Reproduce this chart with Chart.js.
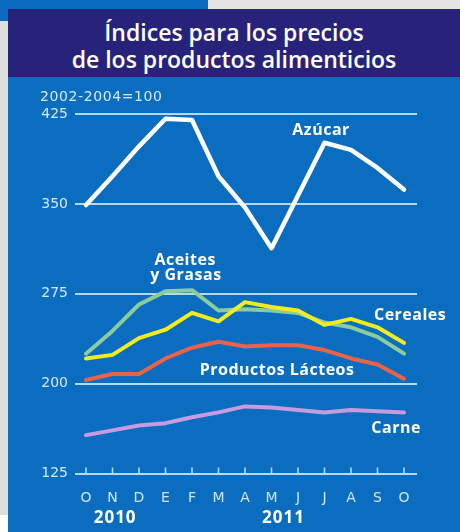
<!DOCTYPE html>
<html>
<head>
<meta charset="utf-8">
<script src="https://cdn.jsdelivr.net/npm/chart.js@4.4.1/dist/chart.umd.min.js"></script>
<style>
  html, body { margin: 0; padding: 0; }
  body { width: 460px; height: 532px; position: relative; overflow: hidden; background: #dedede; }
  #topstrip { position: absolute; left: 0; top: 0; width: 208px; height: 21px; background: #0a6cc0; }
  #topwhite { position: absolute; left: 208px; top: 0; width: 252px; height: 9px; background: #e4e4e4; }
  #botwhite { position: absolute; left: 0; top: 515px; width: 8px; height: 17px; background: #ffffff; }
  #panel { position: absolute; left: 8px; top: 9px; width: 452px; height: 523px; background: #0b6dc0; }
  #header { position: absolute; left: 0; top: 0; width: 452px; height: 68px; background: #28237a;
            color: #ffffff; font-family: "Open Sans", sans-serif; font-weight: 600; font-size: 23px;
            line-height: 27px; text-align: center; box-sizing: border-box; padding-top: 10px; }
  #wrap { position: absolute; left: 0; top: 68px; width: 452px; height: 455px; }
</style>
</head>
<body>
<div id="topstrip"></div>
<div id="topwhite"></div>
<div id="botwhite"></div>
<div id="panel">
  <div id="header">Índices para los precios<br>de los productos alimenticios</div>
  <div id="wrap"><canvas id="c"></canvas></div>
</div>
<script>
const months = ['O','N','D','E','F','M','A','M','J','J','A','S','O'];
const yTicks = [125, 200, 275, 350, 425];
const azucar   = [349, 373, 398, 421, 420, 373, 347, 313, 357, 401, 395, 380, 362];
const aceites  = [225, 244, 266, 277, 278, 261, 262, 261, 259, 251, 247, 239, 225];
const cereales = [221, 224, 238, 245, 259, 252, 268, 264, 261, 249, 254, 247, 234];
const lacteos  = [203, 208, 208, 221, 230, 235, 231, 232, 232, 228, 221, 216, 204];
const carne    = [157, 161, 165, 167, 172, 176, 181, 180, 178, 176, 178, 177, 176];
const years = ['2010', '2011'];
const unitLabel = '2002-2004=100';

// label anchors in data units (x index, y value)
const seriesLabels = [
  { text: 'Azúcar', x: 8.87, y: 411 },
  { text: 'Aceites', x: 3.74, y: 302.5 },
  { text: 'y Grasas', x: 3.77, y: 290 },
  { text: 'Cereales', x: 12.23, y: 256.5 },
  { text: 'Productos Lácteos', x: 7.21, y: 211.4 },
  { text: 'Carne', x: 11.7, y: 163 }
];
const yearPos = [1.1, 7.45];

const toXY = arr => arr.map((v, i) => ({ x: i, y: v }));
const GRID = '#b3daf3';

const labelPlugin = {
  id: 'labels',
  afterDraw(chart) {
    const ctx = chart.ctx, xs = chart.scales.x, ys = chart.scales.y;
    ctx.save();
    // tick marks on baseline
    ctx.strokeStyle = GRID; ctx.lineWidth = 1.6;
    const base = ys.getPixelForValue(ys.min);
    months.forEach((m, i) => {
      const px = xs.getPixelForValue(i);
      ctx.beginPath(); ctx.moveTo(px, base); ctx.lineTo(px, base - 6); ctx.stroke();
    });
    // series labels
    ctx.fillStyle = '#ffffff';
    ctx.font = 'bold 16px "Open Sans"';
    ctx.letterSpacing = '0.5px';
    ctx.textAlign = 'center'; ctx.textBaseline = 'middle';
    seriesLabels.forEach(l => ctx.fillText(l.text, xs.getPixelForValue(l.x), ys.getPixelForValue(l.y)));
    // years
    ctx.font = 'bold 17px "Open Sans"';
    ctx.letterSpacing = '1px';
    years.forEach((y, i) => ctx.fillText(y, xs.getPixelForValue(yearPos[i]), base + 45));
    // unit label
    ctx.font = '14px "DejaVu Sans"';
    ctx.letterSpacing = '0.6px';
    ctx.fillStyle = '#d4eafa';
    ctx.textAlign = 'left';
    ctx.fillText(unitLabel, 32, ys.getPixelForValue(ys.max) - 17);
    ctx.restore();
  }
};

const ds = (label, data, color, w) => ({
  label, data: toXY(data), borderColor: color, borderWidth: w, pointRadius: 0,
  tension: 0, fill: false, borderJoinStyle: 'round', borderCapStyle: 'round'
});

new Chart(document.getElementById('c'), {
  type: 'line',
  data: {
    datasets: [
      ds('Azúcar', azucar, '#ffffff', 4.5),
      ds('Cereales', cereales, '#f3ec1c', 4),
      ds('Aceites y Grasas', aceites, '#8ccc9c', 4),
      ds('Productos Lácteos', lacteos, '#e8634a', 4),
      ds('Carne', carne, '#c79be0', 4)
    ]
  },
  options: {
    responsive: true, maintainAspectRatio: false, animation: false,
    layout: { padding: { left: 0, right: 43, top: 37, bottom: 0 } },
    plugins: { legend: { display: false }, tooltip: { enabled: false }, title: { display: false } },
    scales: {
      x: {
        type: 'linear', min: -0.415, max: 12.49,
        afterBuildTicks: s => { s.ticks = months.map((m, i) => ({ value: i })); },
        afterFit: s => { s.height = 58.5; },
        grid: { display: false }, border: { display: false },
        ticks: { color: '#cfe6f8', font: { family: 'DejaVu Sans', size: 14 }, padding: 8,
                 maxRotation: 0, autoSkip: false, callback: v => months[v] }
      },
      y: {
        min: 125, max: 425,
        afterBuildTicks: s => { s.ticks = yTicks.map(v => ({ value: v })); },
        afterFit: s => { s.width = 67; },
        grid: { color: GRID, lineWidth: 2, drawTicks: false }, border: { display: false },
        ticks: { color: '#d4eafa', font: { family: 'DejaVu Sans', size: 14 }, padding: 7 }
      }
    }
  },
  plugins: [labelPlugin]
});
</script>
</body>
</html>
